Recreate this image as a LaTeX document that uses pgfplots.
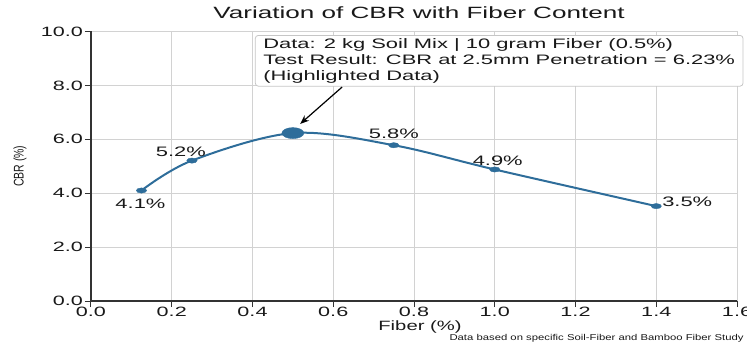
\documentclass[border=0pt]{standalone}
\usepackage{pgfplots}
\pgfplotsset{compat=1.18}
\usepackage{pgfplotstable}
\usepackage{fontspec}
\usetikzlibrary{arrows.meta}
\setmainfont[FakeStretch=1.6]{Liberation Sans}
\newfontfamily\ylabfont[FakeStretch=0.75]{Liberation Sans}
\newfontfamily\notefont[FakeStretch=1.33]{Liberation Sans}
\newfontfamily\xlabfont[FakeStretch=1.5]{Liberation Sans}
\definecolor{linec}{HTML}{2E6D9A}
\definecolor{gridc}{HTML}{D2D2D2}
\definecolor{spine}{HTML}{333333}

\pgfplotstableread{
x y
0.125 4.10
0.25 5.21
0.5 6.23
0.75 5.78
1.0 4.88
1.4 3.52
}\cbrtab

\pgfplotstableread{
x y lab dx dy
0.125 4.10 4.1 -1 -13
0.25 5.21 5.2 -11 9
0.75 5.78 5.8 0 11
1.0 4.88 4.9 3 9
1.4 3.52 3.5 31 4
}\labtab

\pgfplotstableread{
x y
0.5 6.23
}\peaktab

\begin{document}
\begin{tikzpicture}
\begin{axis}[
  name=ax,
  scale only axis,
  width=646bp, height=269.5bp,
  xmin=0, xmax=1.6, ymin=0, ymax=10,
  xtick={0,0.2,0.4,0.6,0.8,1.0,1.2,1.4,1.6},
  ytick={0,2,4,6,8,10},
  axis x line*=bottom, axis y line*=left,
  axis line style={spine, line width=1.2bp, -},
  grid=major,
  major grid style={gridc, line width=0.9bp},
  tick align=outside,
  major tick length=6bp,
  tick style={spine, line width=1bp},
  /pgf/number format/assume math mode=true,
  xticklabel={\pgfmathprintnumber[fixed,precision=1,zerofill]{\tick}},
  yticklabel={\pgfmathprintnumber[fixed,precision=1,zerofill]{\tick}},
  ticklabel style={font=\fontsize{13.5bp}{15bp}\selectfont, text=black!90},
  xticklabel style={inner sep=1bp, yshift=1bp},
  yticklabel style={inner sep=1bp, xshift=-1bp},
  title={Variation of CBR with Fiber Content},
  title style={at={(axis description cs:0.5,1)}, anchor=center, yshift=13bp, xshift=5bp,
    font=\fontsize{16.3bp}{18bp}\selectfont, text=black!90},
  xlabel={\xlabfont Fiber (\%)},
  xlabel style={at={(axis description cs:0.5,0)}, anchor=center, yshift=-26bp, xshift=6bp,
    font=\fontsize{13.5bp}{15bp}\selectfont, text=black!90},
  ylabel={\ylabfont\fontsize{14bp}{16bp}\selectfont CBR (\%)},
  ylabel style={at={(axis description cs:0,0.5)}, anchor=center, yshift=71bp,
    text=black!90},
  clip=false,
]
\addplot[linec, line width=2bp, smooth, tension=0.55, no marks] table[x=x,y=y] {\cbrtab};
\addplot[only marks, mark=*, mark size=2.6bp, mark options={xscale=2, fill=linec, draw=linec},
  point meta=\thisrow{lab},
  visualization depends on={\thisrow{dx} \as \dx},
  visualization depends on={\thisrow{dy} \as \dy},
  nodes near coords={\pgfmathprintnumber[fixed,precision=1,zerofill]{\pgfplotspointmeta}\%},
  nodes near coords style={anchor=center, xshift={\dx*1bp}, yshift={\dy*1bp},
    font=\fontsize{13.7bp}{15bp}\selectfont, text=black!90},
] table[x=x,y=y] {\labtab};
\addplot[only marks, mark=*, mark size=5.5bp, mark options={xscale=2, fill=linec, draw=linec}]
  table[x=x,y=y] {\peaktab};
\node[anchor=north west, draw=gray!45, fill=white, rounded corners=3bp, line width=0.8bp,
  align=left, inner xsep=8bp, inner ysep=3bp, text=black!90,
  font=\fontsize{13.7bp}{16bp}\selectfont]
  at (axis cs:0.406,9.87)
  {Data: 2 kg Soil Mix | 10 gram Fiber (0.5\%)\\
   Test Result: CBR at 2.5mm Penetration = 6.23\%\\
   (Highlighted Data)};
\draw[-{Stealth[length=9bp,width=7bp]}, line width=1.2bp, black]
  (axis cs:0.622,7.94) -- (axis cs:0.518,6.57);
\node[anchor=west, xshift=355bp, yshift=-37bp, font=\notefont\fontsize{8.5bp}{10bp}\selectfont, text=black!90]
  at (rel axis cs:0,0) {Data based on specific Soil-Fiber and Bamboo Fiber Study};
\end{axis}
\pgfresetboundingbox
\path[use as bounding box] ([xshift=-91bp,yshift=-41bp]ax.south west) rectangle ([xshift=656bp,yshift=301bp]ax.south west);
\end{tikzpicture}
\end{document}
